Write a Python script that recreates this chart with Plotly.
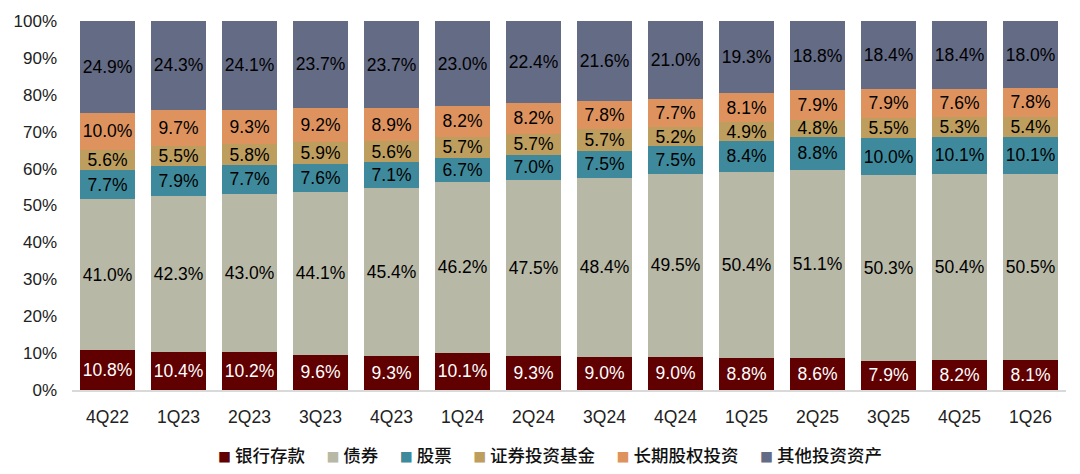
import plotly.graph_objects as go

# Quarter labels and asset allocation shares (%)
quarters = ["4Q22", "1Q23", "2Q23", "3Q23", "4Q23", "1Q24", "2Q24",
            "3Q24", "4Q24", "1Q25", "2Q25", "3Q25", "4Q25", "1Q26"]

bank_deposits = [10.8, 10.4, 10.2, 9.6, 9.3, 10.1, 9.3, 9.0, 9.0, 8.8, 8.6, 7.9, 8.2, 8.1]
bonds = [41.0, 42.3, 43.0, 44.1, 45.4, 46.2, 47.5, 48.4, 49.5, 50.4, 51.1, 50.3, 50.4, 50.5]
stocks = [7.7, 7.9, 7.7, 7.6, 7.1, 6.7, 7.0, 7.5, 7.5, 8.4, 8.8, 10.0, 10.1, 10.1]
funds = [5.6, 5.5, 5.8, 5.9, 5.6, 5.7, 5.7, 5.7, 5.2, 4.9, 4.8, 5.5, 5.3, 5.4]
lt_equity = [10.0, 9.7, 9.3, 9.2, 8.9, 8.2, 8.2, 7.8, 7.7, 8.1, 7.9, 7.9, 7.6, 7.8]
other = [24.9, 24.3, 24.1, 23.7, 23.7, 23.0, 22.4, 21.6, 21.0, 19.3, 18.8, 18.4, 18.4, 18.0]

series = [
    ("银行存款", bank_deposits, "#600000", "white"),
    ("债券", bonds, "#B8B8A6", "black"),
    ("股票", stocks, "#3E8A9C", "black"),
    ("证券投资基金", funds, "#BD9E5E", "black"),
    ("长期股权投资", lt_equity, "#DE935F", "black"),
    ("其他投资资产", other, "#646B85", "black"),
]

FONT = "Liberation Sans, Arial, Noto Sans CJK SC, sans-serif"

fig = go.Figure()
for name, vals, color, txt_color in series:
    fig.add_trace(
        go.Bar(
            x=quarters,
            y=vals,
            name=name,
            marker=dict(color=color, line=dict(width=0)),
            text=vals,
            texttemplate="%{y:.1f}%",
            textposition="inside",
            insidetextanchor="middle",
            textangle=0,
            constraintext="none",
            textfont=dict(family=FONT, size=17.5, color=txt_color),
        )
    )

# Legend drawn as a single line of text with coloured squares
legend_parts = []
for name, _, color, _ in series:
    legend_parts.append(
        f'<span style="color:{color};font-size:13px">■</span>\u00a0{name}'
    )
legend_text = "\u3000\u00a0".join(legend_parts)

fig.add_annotation(
    text=legend_text,
    xref="paper",
    yref="paper",
    x=0.481,
    y=-0.176,
    xanchor="center",
    yanchor="middle",
    showarrow=False,
    font=dict(family="Noto Sans CJK SC, sans-serif", size=17.5, color="#111",
              weight=500),
)

# page body keeps an 8px margin, so the figure is 16px smaller than the window
fig.update_layout(
    barmode="stack",
    bargap=0.23,
    width=1064,
    height=458,
    margin=dict(l=64, r=6, t=13, b=76, autoexpand=False),
    paper_bgcolor="white",
    plot_bgcolor="white",
    showlegend=False,
    uniformtext=dict(minsize=17, mode="show"),
    font=dict(family=FONT, color="#222"),
    xaxis=dict(
        automargin=False,
        showline=True,
        linecolor="#D9D9D9",
        linewidth=2,
        showgrid=False,
        ticks="",
        ticklabelstandoff=10,
        tickfont=dict(family=FONT, size=17.5, color="#222"),
    ),
    yaxis=dict(
        automargin=False,
        range=[0, 100],
        dtick=10,
        ticksuffix="%",
        showgrid=False,
        zeroline=False,
        showline=False,
        ticks="",
        ticklabelstandoff=14,
        tickfont=dict(family=FONT, size=17, color="#222"),
    ),
)

fig.write_html("out.html")
